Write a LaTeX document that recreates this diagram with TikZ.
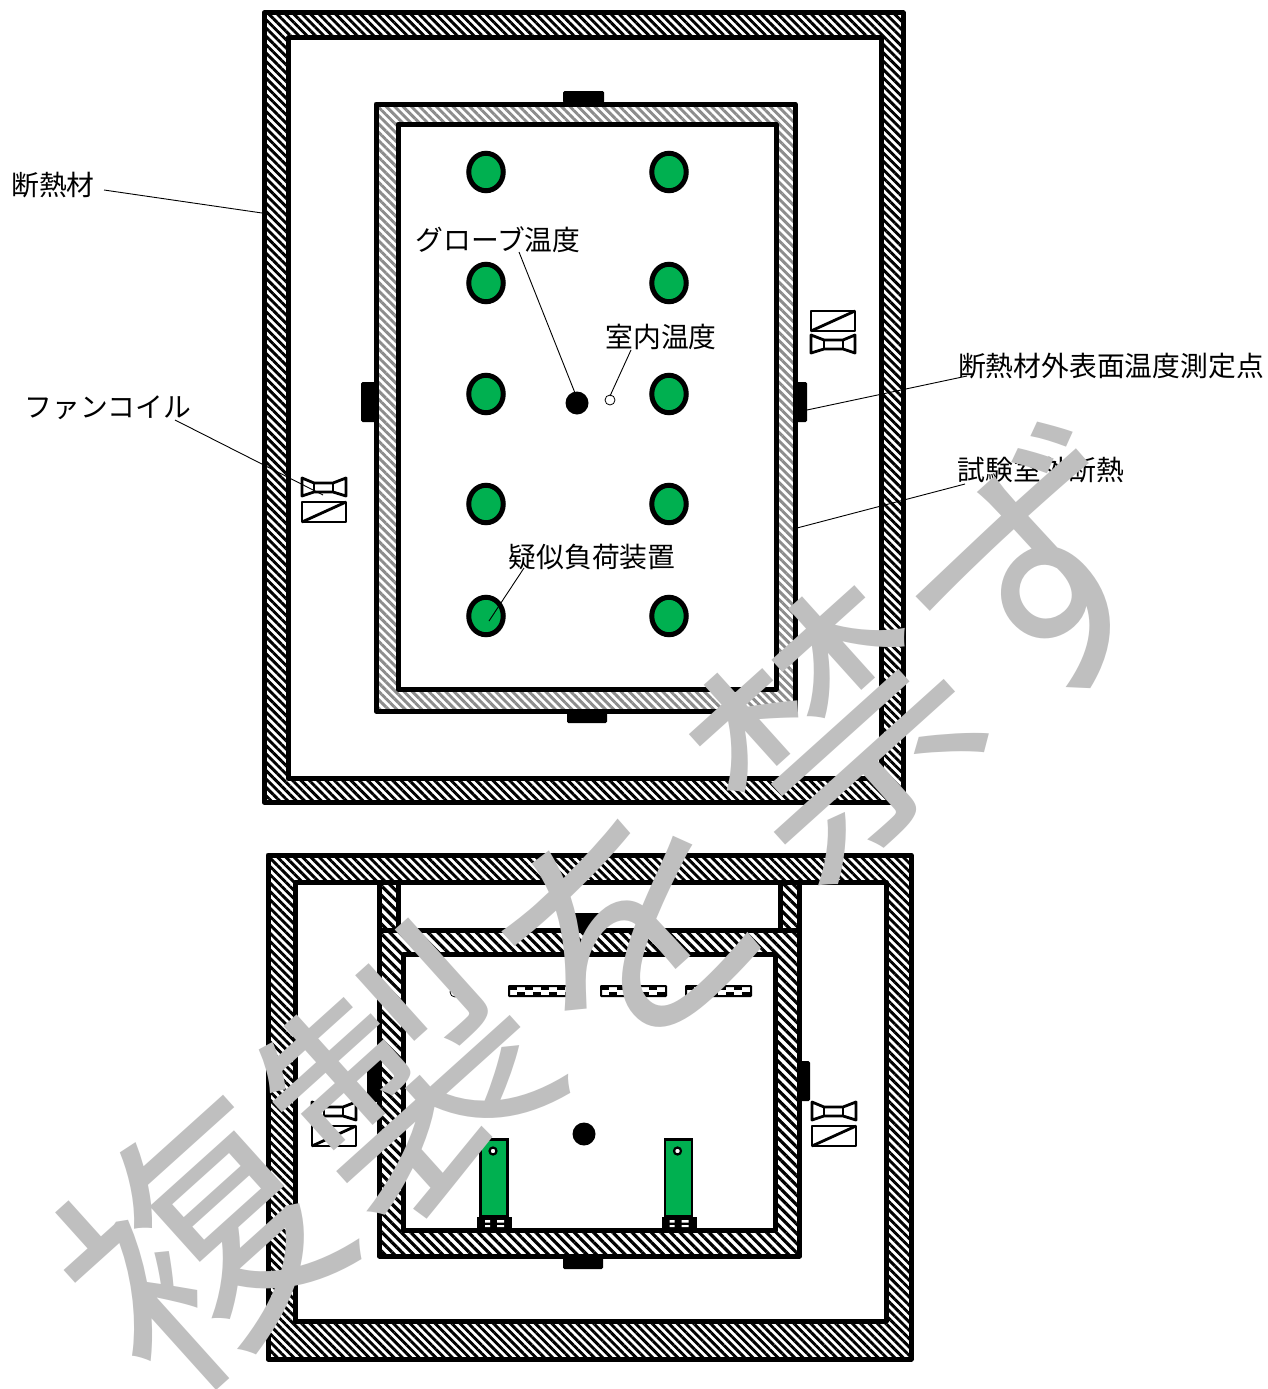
\documentclass[tikz,border=0pt]{standalone}
\usepackage{fontspec}
\usepackage{tikz}
\usetikzlibrary{patterns.meta,shapes.geometric}
\newfontfamily\jpfont{Noto Sans CJK JP}
\definecolor{coilgreen}{HTML}{00B050}
\definecolor{markgray}{HTML}{BFBFBF}
\tikzset{
	wallhatch/.style={draw,line width=5pt,line join=round,even odd rule,pattern={Lines[angle=-45,distance=5.9pt,line width=2.9pt]},pattern color=black},
	grayhatch/.style={wallhatch,pattern color=black!45},
	widehatch/.style={draw,line width=5pt,line join=round,even odd rule,pattern={Lines[angle=-45,distance=6.8pt,line width=3.2pt]},pattern color=black},
	sensorbox/.style={fill=black,rounded corners=1.5pt},
	loadnode/.style={ellipse,draw,line width=5pt,fill=coilgreen,minimum width=34.5pt,minimum height=37.5pt,inner sep=0pt},
	globedot/.style={circle,fill=black,minimum size=23pt,inner sep=0pt},
	airdot/.style={circle,draw,line width=.8pt,fill=white,minimum size=10pt,inner sep=0pt},
	lbl/.style={font=\jpfont\fontsize{27.8}{30}\selectfont,inner sep=0pt,anchor=center},
	leader/.style={line width=.9pt},
	coilline/.style={line width=2.8pt,line join=round},
	panelnode/.style={draw,line width=2.4pt,fill=coilgreen,minimum width=27pt,minimum height=77pt,inner sep=0pt},
	pindot/.style={circle,draw,line width=2.2pt,fill=white,minimum size=7pt,inner sep=0pt},
	markfont/.style={font=\jpfont\fontsize{262}{270}\selectfont,text=markgray,inner sep=0pt,rotate=42}
}
% fan coil: (#1,#2) is the upper left corner
\newcommand{\coilup}[2]{
	\begin{scope}[shift={(#1,#2)}]
		\draw[coilline] (0,0) rectangle (44,20);
		\draw[coilline] (0,20) -- (44,0);
		\draw[coilline] (0,24) -- (13,29) -- (32,29) -- (44,24) -- (44,42) -- (32,38) -- (13,38) -- (0,42) -- cycle;
		\draw[coilline] (13,29) -- (13,38) (32,29) -- (32,38);
	\end{scope}
}
\newcommand{\coildown}[2]{
	\begin{scope}[shift={(#1,#2)}]
		\draw[coilline] (0,0) -- (12,5) -- (31,5) -- (44,0) -- (44,18) -- (31,14) -- (12,14) -- (0,18) -- cycle;
		\draw[coilline] (12,5) -- (12,14) (31,5) -- (31,14);
		\draw[coilline] (0,24) rectangle (44,44);
		\draw[coilline] (0,44) -- (44,24);
	\end{scope}
}
% radiant strip
\newcommand{\stripbox}[1]{
	\draw[line width=2pt,fill=white,rounded corners=.5pt] (#1,986) rectangle ++(65,10);
	\draw[line width=3pt,dash pattern=on 8pt off 8pt] (#1,988.5) -- ++(65,0);
	\draw[line width=3pt,dash pattern=on 8pt off 8pt,dash phase=8pt] (#1,993.5) -- ++(65,0);
}
\begin{document}
\begin{tikzpicture}[x=1pt,y=-1pt]
	\useasboundingbox[fill=white] (0,0) rectangle (1268,1389);

	% upper plan
	\path[wallhatch] (264,13) rectangle (903,802) (288,38) rectangle (881,778);
	\path[grayhatch] (376,104) rectangle (795,711) (398,124) rectangle (776,689);
	\fill[sensorbox] (563,91) rectangle (604,103);
	\fill[sensorbox] (361,382) rectangle (376,422);
	\fill[sensorbox] (795,382) rectangle (807,422);
	\fill[sensorbox] (567,711) rectangle (607,723);

	\foreach \yy [count=\i] in {172,283,394,504,616}{
		\node[loadnode] (la\i) at (486,\yy) {};
		\node[loadnode] (lb\i) at (669,\yy) {};
	}
	\node[globedot] (globe) at (577,403) {};
	\node[airdot] (air) at (610,400) {};
	\coildown{302}{478}
	\coilup{811}{311}

	\node[lbl] (tinsul) at (53,185) {断熱材};
	\node[lbl] (tglobe) at (498,240) {グローブ温度};
	\node[lbl] (tair) at (661,337) {室内温度};
	\node[lbl] (tcoil) at (108,408) {ファンコイル};
	\node[lbl] (tsurf) at (1111,366) {断熱材外表面温度測定点};
	\node[lbl] (toutside) at (1041,470) {試験室外断熱};
	\node[lbl] (tload) at (592,557) {疑似負荷装置};

	\coordinate (e1) at (104,190);
	\coordinate (e2) at (262,213);
	\coordinate (e3) at (519,252);
	\coordinate (e4) at (575,393);
	\coordinate (e5) at (631,350);
	\coordinate (e6) at (610,396);
	\coordinate (e7) at (175,420);
	\coordinate (e8) at (323,495);
	\coordinate (e9) at (807,410);
	\coordinate (e10) at (967,376);
	\coordinate (e11) at (797,528);
	\coordinate (e12) at (965,484);
	\coordinate (e13) at (524,568);
	\coordinate (e14) at (489,621);
	\draw[leader] (e1) -- (e2);
	\draw[leader] (e3) -- (e4);
	\draw[leader] (e5) -- (e6);
	\draw[leader] (e7) -- (e8);
	\draw[leader] (e9) -- (e10);
	\draw[leader] (e11) -- (e12);
	\draw[leader] (e13) -- (e14);

	% lower section
	\path[wallhatch] (268,855) rectangle (911,1359) (295,882) rectangle (886,1321);
	\path[widehatch] (379.5,882) rectangle (398,930);
	\path[widehatch] (780.5,882) rectangle (799.5,930);
	\path[widehatch] (379.5,930) rectangle (799.5,1256) (403,954) rectangle (775,1230);
	\fill[sensorbox] (563,913) rectangle (603,928);
	\fill[sensorbox] (367,1062) rectangle (381,1102);
	\fill[sensorbox] (800,1061) rectangle (810,1101);
	\fill[sensorbox] (563,1257) rectangle (603,1269);

	\node[airdot] (airb) at (455,992) {};
	\stripbox{509}
	\stripbox{601}
	\stripbox{686}
	\node[globedot] (globeb) at (584,1134) {};
	\coildown{312}{1102}
	\coildown{812}{1102}

	\foreach \xx/\nm in {494/pa,678.5/pb}{
		\node[panelnode] (\nm) at (\xx,1178) {};
		\node[pindot] (\nm pin) at (\xx-1,1151) {};
		\fill (\xx-17,1217) rectangle (\xx+18,1229);
		\fill[white] (\xx-9,1220) rectangle (\xx-4,1222.5) (\xx+3,1220) rectangle (\xx+10,1222.5);
		\fill[white] (\xx-9,1225) rectangle (\xx-4,1227) (\xx+3,1225) rectangle (\xx+10,1227);
	}

	% stamp across the sheet, one letter at a time
	\foreach \ch/\px/\py [count=\i] in {複/198/1245,製/408/1077,を/630/925,禁/835/730,ず/1046/572}{
		\node[markfont] (stamp\i) at (\px,\py) {\ch};
	}
\end{tikzpicture}
\end{document}
